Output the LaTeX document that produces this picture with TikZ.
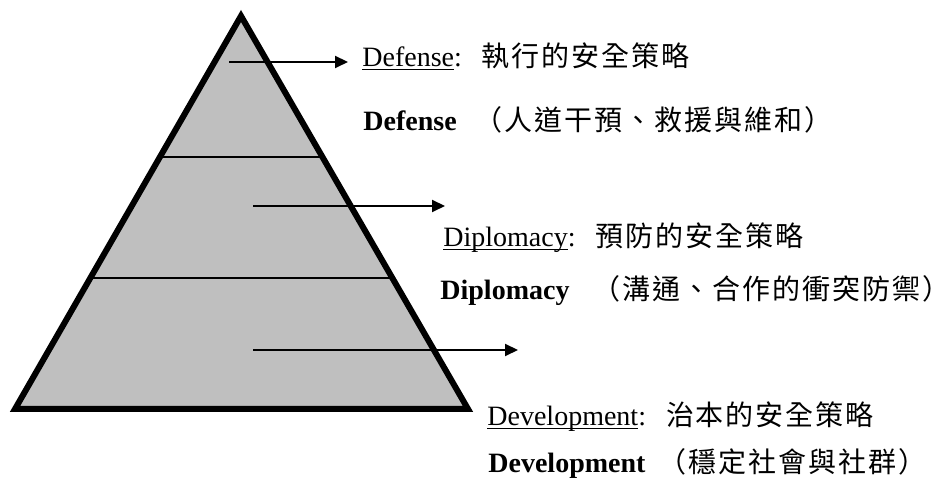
\documentclass[tikz,border=0pt]{standalone}
\usepackage{fontspec}
\setmainfont{Liberation Serif}
\newfontfamily\cjk[LetterSpace=7]{Noto Sans CJK TC}
\usepackage{xcolor}
\colorlet{colorPyramid}{black!25}
\colorlet{colorLine}{black}
\usepackage{tikz}
\usetikzlibrary{arrows.meta, calc, positioning}
% underline that runs through the descenders, as in the source
\newcommand{\wordline}[1]{{\setbox0\hbox{#1}\rlap{\rule[-1.7pt]{\wd0}{0.7pt}}\box0}}
\tikzset{
  layer/.style={line width=1pt, colorLine},
  pointer/.style={->, line width=1pt, colorLine},
  label/.style={inner sep=0pt, anchor=base west, font=\fontsize{14}{17}\selectfont}
}

\begin{document}
\begin{tikzpicture}[x=0.5pt, y=-0.5pt, >={Triangle[length=6.5pt, width=6pt]}]
\useasboundingbox (0,0) rectangle (951,490);
\coordinate (top) at (241,16);
\coordinate (left) at (15,409);
\coordinate (right) at (468,409);
\filldraw[fill=colorPyramid, line width=3pt, line join=miter] (top) -- (left) -- (right) -- cycle;
\draw[layer] ($(top)!0.359!(left)$) -- ($(top)!0.359!(right)$);
\draw[layer] ($(top)!0.667!(left)$) -- ($(top)!0.667!(right)$);
% arrows out of the three layers
\coordinate (defTail) at (229,62);
\coordinate (defHead) at (348,62);
\coordinate (dipTail) at (253,206);
\coordinate (dipHead) at (445,206);
\coordinate (devTail) at (253,350);
\coordinate (devHead) at (518,350);
\draw[pointer] (defTail) -- (defHead);
\draw[pointer] (dipTail) -- (dipHead);
\draw[pointer] (devTail) -- (devHead);
% texts
\node[label] (defA) at (362,67) {\wordline{Defense}:\hspace{10pt}{\cjk 執行的安全策略}};
\node[label] (defB) at (363,131) {\textbf{Defense}\hspace{9pt}{\cjk （人道干預、救援與維和）}};
\node[label] (dipA) at (443,247) {\wordline{Diplomacy}:\hspace{10pt}{\cjk 預防的安全策略}};
\node[label] (dipB) at (440,300) {\textbf{Diplomacy}\hspace{11.5pt}{\cjk （溝通、合作的衝突防禦）}};
\node[label] (devA) at (487,426) {\wordline{Development}:\hspace{10pt}{\cjk 治本的安全策略}};
\node[label] (devB) at (488,473) {\textbf{Development}\hspace{6.5pt}{\cjk （穩定社會與社群）}};
\end{tikzpicture}
\end{document}
